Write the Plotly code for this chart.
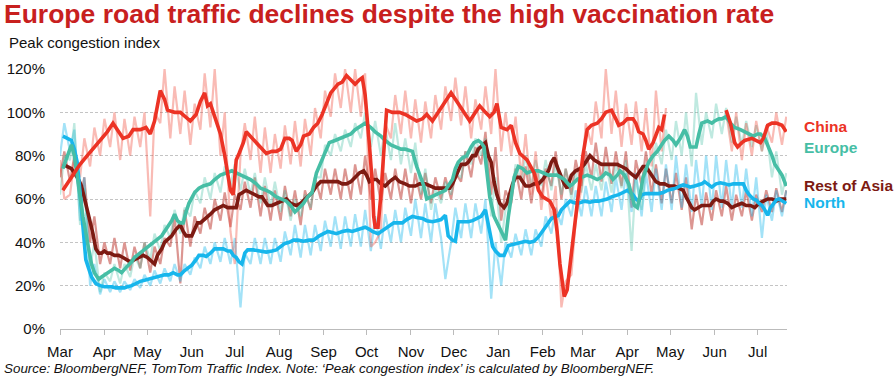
import pandas as pd
import plotly.graph_objects as go

START = pd.Timestamp("2020-03-01")

# ---------------- tick labels ----------------
month_ticks = ["2020-03-01", "2020-04-01", "2020-05-01", "2020-06-01", "2020-07-01",
               "2020-08-01", "2020-09-01", "2020-10-01", "2020-11-01", "2020-12-01",
               "2021-01-01", "2021-02-01", "2021-03-01", "2021-04-01", "2021-05-01",
               "2021-06-01", "2021-07-01"]
month_labels = ["Mar", "Apr", "May", "Jun", "Jul", "Aug", "Sep", "Oct", "Nov", "Dec",
                "Jan", "Feb", "Mar", "Apr", "May", "Jun", "Jul"]
y_ticks = [0, 20, 40, 60, 80, 100, 120]
y_labels = ["0%", "20%", "40%", "60%", "80%", "100%", "120%"]

# ---------------- daily (light) series: values at Sun / Wed of each week ----------------
raw_days = [d for k in range(73) for d in (7 * k, 7 * k + 3)]

china_raw = [78, 60, 62, 78, 70, 88, 75, 93, 80, 97, 84, 100, 78, 97, 80, 98, 84, 100, 52, 100,
             95, 120, 88, 112, 90, 110, 85, 104, 92, 118, 93, 120, 80, 100, 45, 30,
             80, 95, 78, 98, 72, 93, 72, 90, 74, 94, 76, 96, 75, 97, 80, 102,
             88, 110, 98, 118, 102, 120, 100, 120, 98, 118, 38, 40, 45, 95,
             88, 108, 90, 110, 88, 106, 86, 105, 88, 108, 92, 112, 96, 116, 94, 112,
             88, 106, 92, 112, 90, 120, 82, 100, 80, 98, 70, 90, 62, 82, 55, 72,
             50, 66, 10, 22, 25, 50, 65, 95, 85, 105, 88, 120, 90, 110, 84, 104,
             85, 105, 82, 102, 75, 110, 82, 102, None, None, None, None, None, None,
             None, None, None, None, None, 100, 82, 100, 78, 95, 80, 96, 82, 94,
             86, 100, 85, 98]

europe_raw = [62, 80, 78, 95, 48, 65, 28, 40, 17, 26, 22, 30, 21, 30, 24, 34, 28, 40, 32, 44,
              36, 48, 42, 55, 44, 56, 52, 64, 58, 70, 60, 72, 63, 75, 66, 76, 64, 74, 62, 72,
              58, 70, 56, 68, 54, 64, 50, 60, 52, 62, 56, 70, 70, 85, 80, 90, 82, 92, 84, 95,
              88, 100, 84, 96, 80, 93, 78, 95, 76, 88, 72, 86, 62, 74, 55, 65, 58, 68, 62, 72,
              70, 82, 76, 88, 80, 88, 52, 70, 40, 55, 60, 76, 68, 80, 66, 78, 66, 78, 64, 76,
              62, 74, 60, 72, 63, 76, 64, 76, 64, 77, 63, 76, 65, 78, 36, 70, 55, 75, 70, 86,
              76, 92, 78, 96, 80, 100, 75, 109, 85, 100, 88, 104, 90, 102, 86, 98, 85, 96,
              84, 94, 82, 92, 70, 82, 62, 72]

rest_asia_raw = [70, 82, 68, 80, 60, 70, 40, 52, 30, 40, 30, 42, 28, 40, 27, 38, 28, 40, 26, 38,
                 30, 42, 38, 52, 21, 55, 38, 52, 44, 56, 46, 60, 50, 63, 47, 62, 55, 68, 56, 70,
                 52, 66, 50, 64, 50, 66, 52, 64, 48, 64, 55, 70, 60, 74, 62, 74, 60, 74, 60, 76,
                 62, 80, 60, 74, 58, 72, 60, 74, 60, 74, 58, 72, 60, 72, 58, 70, 60, 70, 60, 72,
                 68, 82, 70, 84, 76, 91, 62, 84, 50, 64, 58, 74, 60, 75, 58, 72, 60, 74, 66, 82,
                 60, 74, 62, 78, 66, 82, 70, 86, 68, 84, 67, 82, 66, 82, 56, 78, 66, 82, 62, 76,
                 58, 74, 58, 72, 55, 70, 46, 62, 48, 63, 50, 64, 52, 66, 50, 62, 52, 64, 50, 62,
                 54, 64, 54, 65, 54, 64]

north_raw = [80, 95, 82, 92, 50, 70, 20, 30, 16, 23, 17, 22, 17, 22, 18, 23, 19, 25, 20, 27,
             21, 28, 22, 30, 22, 30, 25, 33, 28, 38, 30, 40, 31, 42, 30, 42, 10, 35, 30, 42,
             30, 42, 30, 42, 31, 45, 34, 48, 33, 48, 34, 48, 36, 50, 38, 52, 37, 52, 38, 53,
             38, 55, 36, 52, 37, 53, 40, 55, 40, 56, 43, 60, 42, 58, 40, 58, 42, 23, 40, 56,
             42, 58, 42, 58, 44, 60, 14, 40, 20, 40, 33, 44, 34, 46, 34, 46, 38, 52, 44, 56,
             48, 60, 52, 64, 52, 66, 52, 66, 52, 68, 54, 70, 55, 72, 54, 72, 52, 72, 54, 74,
             55, 76, 55, 80, 56, 76, 54, 78, 56, 80, 55, 80, 56, 78, 56, 76, 56, 74, 52, 70,
             42, 62, 50, 64, 52, 64]

# ---------------- 7-day average (bold) series ----------------
china_days = [2, 6, 10, 14, 19, 23, 28, 33, 37, 41, 44, 48, 51, 56, 60, 63, 66, 70, 73, 75,
              80, 84, 88, 91, 95, 98, 101, 103, 105, 109, 112, 115, 117, 119, 121, 123, 125, 128,
              130, 134, 137, 140, 144, 148, 151, 154, 157, 160, 162, 165, 168, 170, 174, 177,
              180, 183, 186, 189, 194, 197, 200, 203, 206, 209, 211, 213, 214, 216, 218, 219,
              220, 222, 224, 226, 228, 232, 237, 241, 244, 249, 253, 256, 260, 264, 268, 273,
              276, 279, 283, 286, 290, 293, 297, 300, 303, 305, 308, 312, 315, 318, 321, 326,
              331, 334, 337, 342, 345, 347, 349, 352, 354, 357, 360, 362, 365, 368, 371, 375,
              378, 381, 385, 388, 390, 393, 396, 400, 402, 404, 407, 409, 411, 414, 416, 418,
              420, 422, 440, 465, 468, 471, 473, 476, 478, 483, 486, 489, 491, 494, 497, 500,
              504, 507]
china_vals = [64, 68, 72, 76, 80, 83, 87, 91, 95, 91, 88, 89, 92, 92, 93, 90, 96, 110, 106, 101,
              100, 100, 98, 96, 99, 105, 109, 103, 104, 96, 90, 80, 72, 64, 62, 78, 81, 86,
              91, 88, 86, 84, 81, 82, 82, 83, 88, 88, 87, 82, 85, 89, 90, 93,
              95, 99, 104, 109, 113, 114, 117, 115, 113, 115, 116, 108, 101, 85, 67, 52,
              47, 47, 62, 82, 101, 100, 100, 99, 98, 96, 97, 99, 96, 100, 104, 109,
              106, 103, 99, 96, 100, 103, 100, 98, 100, 104, 93, 92, 94, 86, 81, 78,
              72, 64, 61, 59, 55, 45, 30, 15, 18, 34, 52, 63, 80, 92, 94, 95,
              97, 100, 101, 97, 94, 95, 97, 97, 95, 91, 90, 87, 83, 86, 90, 93,
              92, 99, None, 101, 95, 86, 84, 86, 87, 88, 87, 86, 88, 94, 95, 95,
              94, 91]

europe_days = [2, 5, 8, 10, 13, 16, 20, 22, 24, 27, 29, 31, 35, 38, 41, 43, 47, 50, 52, 56,
               59, 63, 66, 69, 71, 74, 76, 78, 80, 82, 84, 86, 88, 90, 94, 97, 100, 105, 108,
               112, 116, 120, 123, 126, 130, 133, 137, 140, 144, 147, 151, 155, 158, 161, 164,
               167, 170, 173, 176, 179, 182, 184, 188, 192, 196, 199, 203, 206, 210, 213, 217,
               220, 224, 227, 231, 234, 238, 241, 246, 249, 252, 254, 256, 259, 262, 266, 269,
               272, 274, 276, 278, 281, 284, 287, 289, 292, 294, 296, 298, 300, 303, 305, 308,
               311, 313, 315, 317, 320, 323, 326, 330, 334, 338, 341, 344, 347, 352, 356, 358,
               361, 364, 368, 372, 375, 378, 381, 384, 386, 389, 391, 394, 397, 399, 401, 403,
               405, 407, 409, 411, 414, 417, 420, 422, 425, 428, 430, 433, 436, 438, 440, 444,
               446, 448, 452, 455, 457, 460, 462, 465, 468, 471, 475, 478, 481, 484, 487, 489,
               492, 494, 497, 499, 502, 504, 507]
europe_vals = [74, 79, 85, 80, 66, 52, 37, 30, 26, 23, 24, 25, 27, 28, 27, 26, 29, 31, 33, 35,
               37, 39, 40, 42, 43, 46, 48, 50, 53, 50, 49, 49, 54, 58, 63, 65, 66, 67, 69,
               71, 72, 73, 72, 71, 70, 69, 67, 65, 64, 63, 61, 60, 59, 57, 54,
               56, 58, 61, 63, 72, 77, 80, 86, 87, 88, 89, 90, 92, 94, 95, 93,
               91, 89, 87, 85, 84, 83, 83, 82, 75, 69, 66, 60, 61, 62, 63, 64,
               67, 69, 74, 77, 79, 80, 84, 86, 87, 86, 84, 72, 61, 52, 49, 45,
               41, 52, 62, 70, 75, 74, 72, 73, 73, 72, 71, 71, 71, 69, 66, 67,
               69, 70, 71, 70, 69, 70, 72, 71, 69, 71, 73, 71, 67, 62, 57, 56,
               62, 70, 74, 77, 80, 82, 85, 87, 89, 87, 85, 88, 92, 89, 84, 84,
               90, 95, 96, 95, 96, 97, 97, 98, 95, 93, 92, 91, 90, 89, 90, 90,
               88, 85, 80, 76, 73, 71, 66]

rest_asia_days = [2, 5, 8, 10, 13, 15, 18, 20, 23, 25, 27, 29, 31, 33, 35, 38, 41, 44, 46, 49,
                  52, 55, 58, 61, 63, 66, 68, 71, 73, 76, 78, 81, 84, 86, 88, 92, 94, 96, 98,
                  100, 102, 105, 108, 111, 114, 117, 120, 123, 125, 128, 130, 133, 136, 139, 141,
                  143, 145, 148, 151, 154, 158, 161, 165, 168, 171, 173, 176, 179, 182, 185, 188,
                  191, 194, 197, 200, 203, 206, 209, 212, 214, 216, 219, 221, 224, 227, 230, 234,
                  237, 241, 244, 248, 251, 255, 258, 262, 266, 269, 272, 274, 277, 280, 283, 285,
                  288, 290, 292, 295, 297, 299, 301, 303, 305, 307, 310, 312, 314, 316, 318, 321,
                  323, 325, 328, 331, 334, 337, 339, 341, 343, 345, 347, 350, 352, 354, 357, 360,
                  363, 366, 368, 370, 373, 375, 378, 381, 384, 387, 389, 392, 395, 398, 400, 402,
                  404, 407, 409, 411, 413, 416, 419, 422, 425, 429, 432, 435, 437, 439, 441, 443,
                  446, 448, 451, 454, 456, 458, 461, 463, 466, 469, 472, 476, 479, 482, 485, 488,
                  491, 494, 497, 500, 503, 507]
rest_asia_vals = [76, 75, 74, 72, 69, 66, 58, 53, 44, 37, 35, 35, 36, 35, 35, 34, 34, 33, 32, 31,
                  32, 33, 34, 33, 32, 30, 34, 37, 40, 42, 43, 46, 48, 45, 43, 43, 46, 49, 49,
                  50, 51, 53, 55, 56, 57, 56, 56, 56, 62, 63, 64, 63, 62, 61, 61,
                  59, 57, 57, 58, 59, 60, 58, 57, 58, 60, 61, 63, 66, 68, 68, 68,
                  68, 68, 67, 67, 68, 70, 72, 73, 71, 68, 69, 69, 67, 66, 68, 70,
                  68, 67, 66, 66, 67, 67, 66, 65, 65, 65, 65, 67, 72, 76, 76, 77,
                  80, 80, 83, 85, 86, 80, 77, 68, 62, 58, 56, 58, 63, 67, 70, 70,
                  68, 66, 66, 67, 67, 69, 71, 73, 77, 79, 75, 70, 67, 65, 71, 73,
                  74, 76, 78, 80, 78, 77, 76, 76, 76, 76, 76, 75, 74, 72, 71, 70,
                  72, 75, 75, 73, 71, 68, 67, 67, 66, 66, 65, 64, 61, 58, 56, 55,
                  56, 57, 57, 57, 59, 60, 59, 59, 58, 56, 57, 58, 57, 57, 56, 58,
                  59, 60, 60, 59, 60, 60]

north_days = [2, 5, 8, 10, 12, 14, 16, 18, 20, 22, 25, 28, 31, 36, 39, 42, 45, 47, 50, 53,
              56, 59, 62, 66, 70, 73, 76, 79, 82, 84, 87, 90, 92, 95, 97, 100, 102, 105, 108,
              111, 114, 117, 119, 121, 123, 125, 127, 129, 131, 135, 139, 142, 144, 148, 151,
              154, 157, 160, 163, 166, 170, 174, 177, 181, 184, 187, 190, 193, 197, 201, 204,
              206, 210, 213, 216, 218, 222, 224, 227, 230, 233, 236, 239, 242, 246, 249, 253,
              256, 260, 263, 266, 269, 271, 274, 276, 278, 282, 285, 288, 291, 294, 297, 300,
              302, 304, 307, 310, 313, 316, 319, 322, 325, 328, 331, 334, 337, 339, 341, 343,
              346, 348, 350, 353, 356, 358, 361, 364, 366, 370, 373, 376, 379, 382, 385, 388,
              390, 393, 396, 398, 400, 402, 404, 406, 409, 412, 415, 418, 421, 424, 427, 430,
              433, 435, 438, 440, 443, 446, 448, 450, 453, 455, 458, 461, 464, 467, 470, 473,
              477, 479, 481, 484, 486, 488, 490, 492, 494, 496, 498, 500, 502, 505, 507]
north_vals = [89, 88, 87, 83, 77, 63, 47, 32, 28, 24, 21, 20, 19.5, 19.5, 19, 19, 19, 19.5, 20, 21,
              22, 22.5, 23, 24, 24.5, 25, 25, 26, 25, 25, 27, 28.5, 29.5, 32, 34, 34, 33.5, 35, 37,
              37, 37, 36, 36, 34, 33, 31, 30, 35, 36.5, 36.5, 36, 36, 35.5, 36, 36.5,
              38, 39.5, 40, 41, 41, 40.5, 41, 41, 43, 44, 45, 44.5, 44, 45, 45.5, 45,
              45.5, 46.5, 47, 46, 45, 44, 45, 46.5, 47.5, 49, 49, 49, 50.5, 52, 51.5, 51,
              50, 49.5, 50, 50.5, 52.5, 43, 41, 40.5, 49.5, 49.5, 49.5, 50, 51, 52, 55, 44,
              38, 36, 34, 34, 38.5, 39, 39.5, 40, 40.5, 40, 40.5, 42.5, 45, 47, 49, 51,
              52, 52.5, 55, 57, 59, 58.5, 58, 58.5, 59, 58.5, 59, 59, 59.5, 60, 61, 61.5,
              62, 63, 64, 63, 62, 60, 59, 62, 62.5, 62.5, 62.5, 62.5, 63, 64, 64.5, 65,
              66, 66.5, 66, 65.5, 66, 66.5, 67, 68, 66.5, 65.5, 67, 67.5, 67, 66.5, 67, 67,
              67, 64, 62, 60, 59.5, 58, 57, 55, 52.5, 56, 58, 59.5, 60, 59, 58]

# ---------------- styling ----------------
series = [
    # name, raw, avg days, avg vals, bold colour, light colour, label y (paper)
    ("Rest of Asia", rest_asia_raw, rest_asia_days, rest_asia_vals, "#7D1A12", "rgba(185,45,38,0.50)", 0.552),
    ("North", north_raw, north_days, north_vals, "#17B6EC", "rgba(24,183,236,0.40)", 0.486),
    ("Europe", europe_raw, europe_days, europe_vals, "#46BEA5", "rgba(71,191,166,0.35)", 0.700),
    ("China", china_raw, china_days, china_vals, "#EC3325", "rgba(238,59,43,0.35)", 0.777),
]


def to_dates(days):
    return [START + pd.Timedelta(days=d) for d in days]


fig = go.Figure()

for name, raw, _, _, _, light, _ in series:
    n = min(len(raw_days), len(raw))
    fig.add_trace(go.Scatter(x=to_dates(raw_days[:n]), y=raw[:n], mode="lines",
                             line=dict(color=light, width=2.2), connectgaps=False,
                             showlegend=False, hoverinfo="skip"))

for name, _, days, vals, bold, _, _ in series:
    n = min(len(days), len(vals))
    fig.add_trace(go.Scatter(x=to_dates(days[:n]), y=vals[:n], mode="lines", name=name,
                             line=dict(color=bold, width=3.6), connectgaps=False,
                             showlegend=False))

for name, _, _, _, bold, _, ly in series:
    fig.add_annotation(xref="paper", yref="paper", x=1.0205, y=ly, xanchor="left",
                       yanchor="middle", text=f"<b>{name}</b>", showarrow=False,
                       font=dict(size=15.5, color=bold, family="Liberation Sans, Arial"))

fig.add_annotation(xref="paper", yref="paper", x=-0.08, y=1.21, xanchor="left",
                   yanchor="middle", showarrow=False,
                   text="<b>Europe road traffic declines despite the high vaccination rate</b>",
                   font=dict(size=26.5, color="#C8201E", family="Liberation Sans, Arial"))
fig.add_annotation(xref="paper", yref="paper", x=-0.073, y=1.10, xanchor="left",
                   yanchor="middle", showarrow=False, text="Peak congestion index",
                   font=dict(size=15, color="#111111", family="Liberation Sans, Arial"))
fig.add_annotation(xref="paper", yref="paper", x=-0.08, y=-0.151, xanchor="left",
                   yanchor="middle", showarrow=False,
                   text="<i>Source: BloombergNEF, TomTom Traffic Index. Note: \u2018Peak congestion index\u2019 is calculated by BloombergNEF.</i>",
                   font=dict(size=13.4, color="#111111", family="Liberation Sans, Arial"))

fig.update_layout(
    width=896, height=376,
    margin=dict(l=60, r=109, t=69, b=47),
    paper_bgcolor="white", plot_bgcolor="white",
    font=dict(family="Liberation Sans, Arial", size=15, color="#111111"),
    showlegend=False,
)
fig.update_xaxes(
    range=[START, START + pd.Timedelta(days=507.5)],
    tickvals=pd.to_datetime(month_ticks), ticktext=month_labels,
    ticks="outside", ticklen=5, tickcolor="#BBBBBB", tickwidth=1,
    showline=True, linecolor="#BBBBBB", linewidth=1,
    showgrid=False, zeroline=False, ticklabelstandoff=4, automargin=False,
    tickfont=dict(size=15, color="#111111"),
)
fig.update_yaxes(
    range=[0, 120], tickvals=y_ticks, ticktext=y_labels,
    showgrid=True, gridcolor="#C4C4C4", griddash="3px,2px", gridwidth=1,
    zeroline=False, showline=False, ticks="", ticklabelstandoff=14, automargin=False,
    tickfont=dict(size=15, color="#111111"),
)

fig.write_html("out.html", config={"displayModeBar": False},
               post_script="document.body.style.margin='0';")
